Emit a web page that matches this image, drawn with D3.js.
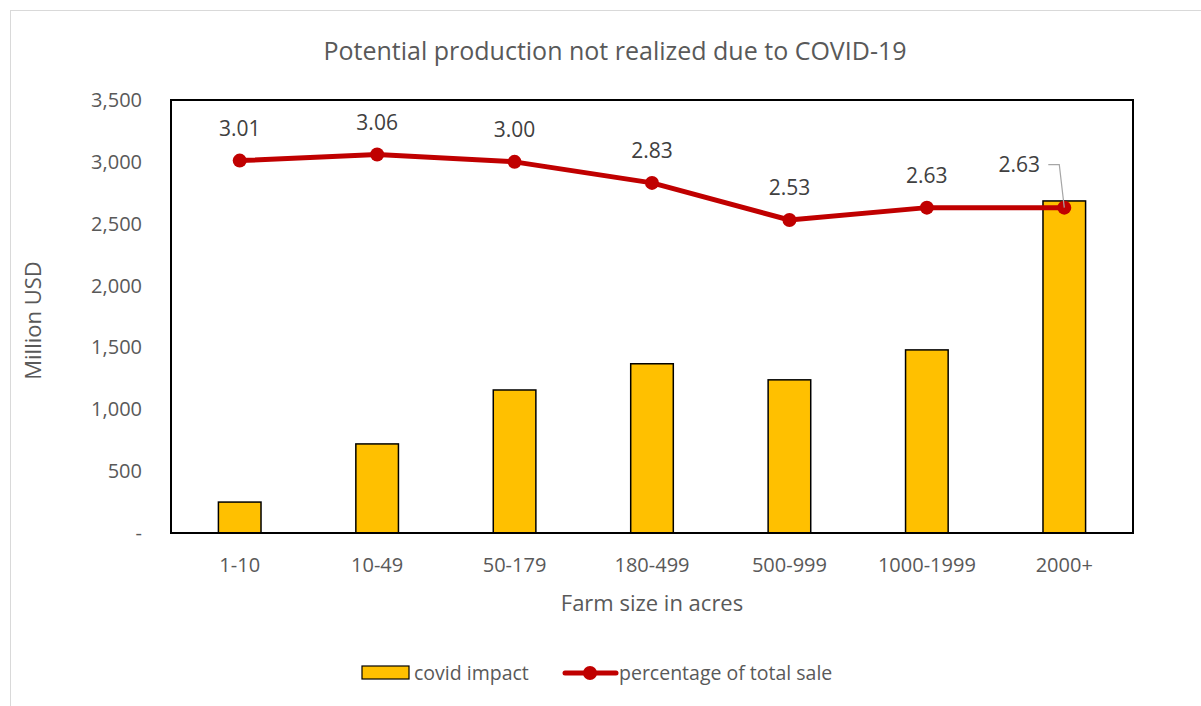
<!DOCTYPE html>
<html>
<head>
<meta charset="utf-8">
<script src="https://cdn.jsdelivr.net/npm/d3@7"></script>
<style>
  body { margin: 0; background: #fff; }
  text { font-family: "Open Sans", "Noto Sans", sans-serif; fill: #595959; }
</style>
</head>
<body>
<svg id="chart" width="1201" height="706"></svg>
<script>
// chart data
const farmSizes = ["1-10", "10-49", "50-179", "180-499", "500-999", "1000-1999", "2000+"];
const covidImpact = [250, 720, 1156, 1368, 1238, 1480, 2684];
const pctOfSale = [3.01, 3.06, 3.00, 2.83, 2.53, 2.63, 2.63];
const yTicks = [0, 500, 1000, 1500, 2000, 2500, 3000, 3500];

const svg = d3.select("#chart");
const margin = {top: 100, right: 68, bottom: 173, left: 171};
const width = 1201 - margin.left - margin.right;
const height = 706 - margin.top - margin.bottom;

// outer chart border
svg.append("rect")
    .attr("x", 10.5).attr("y", 10.5)
    .attr("width", 1200).attr("height", 700)
    .attr("fill", "none")
    .attr("stroke", "#d9d9d9");

const g = svg.append("g").attr("transform", `translate(${margin.left},${margin.top})`);

const x = d3.scaleBand().domain(farmSizes).range([0, width]).paddingInner(0.69).paddingOuter(0.345);
const y = d3.scaleLinear().domain([0, 3500]).range([height, 0]);
// percentage series drawn on a hidden 0-3.5 axis
const y2 = d3.scaleLinear().domain([0, 3.5]).range([height, 0]);

// y axis labels
const fmt = d3.format(",");
g.selectAll(".ytick")
    .data(yTicks)
    .enter()
    .append("text")
        .attr("x", -29)
        .attr("y", d => y(d))
        .attr("dy", "0.35em")
        .attr("text-anchor", "end")
        .style("font-size", "20px")
        .text(d => d === 0 ? "-" : fmt(d));

// x axis labels
g.selectAll(".xtick")
    .data(farmSizes)
    .enter()
    .append("text")
        .attr("x", d => x(d) + x.bandwidth() / 2)
        .attr("y", height + 39)
        .attr("text-anchor", "middle")
        .style("font-size", "20px")
        .text(d => d);

// bars
g.selectAll(".bar")
    .data(covidImpact)
    .enter()
    .append("rect")
        .attr("x", (d, i) => x(farmSizes[i]))
        .attr("y", d => y(d))
        .attr("width", x.bandwidth())
        .attr("height", d => height - y(d))
        .attr("fill", "#FFC000")
        .attr("stroke", "#000")
        .attr("stroke-width", 1.5);

// plot frame
g.append("rect")
    .attr("width", width).attr("height", height)
    .attr("fill", "none")
    .attr("stroke", "#000")
    .attr("stroke-width", 2);

// line series
const cx = i => x(farmSizes[i]) + x.bandwidth() / 2;
const line = d3.line()
    .x((d, i) => cx(i))
    .y(d => y2(d));

g.append("path")
    .datum(pctOfSale)
    .attr("d", line)
    .attr("fill", "none")
    .attr("stroke", "#C00000")
    .attr("stroke-width", 5)
    .attr("stroke-linejoin", "round");

g.selectAll(".dot")
    .data(pctOfSale)
    .enter()
    .append("circle")
        .attr("cx", (d, i) => cx(i))
        .attr("cy", d => y2(d))
        .attr("r", 7)
        .attr("fill", "#C00000");

// data labels
g.selectAll(".lbl")
    .data(pctOfSale)
    .enter()
    .append("text")
        .attr("x", (d, i) => i === 6 ? cx(i) - 45 : cx(i))
        .attr("y", (d, i) => i === 6 ? y2(d) - 43 : y2(d) - 32)
        .attr("dy", "0.35em")
        .attr("text-anchor", "middle")
        .style("font-size", "21px")
        .style("fill", "#404040")
        .text(d => d.toFixed(2));

// leader line for the last label
const last = pctOfSale.length - 1;
g.append("path")
    .attr("d", `M${cx(last) - 16},${y2(pctOfSale[last]) - 43} h11 L${cx(last)},${y2(pctOfSale[last])}`)
    .attr("fill", "none")
    .attr("stroke", "#a6a6a6")
    .attr("stroke-width", 1.2);

// title
svg.append("text")
    .attr("x", 615).attr("y", 60)
    .attr("text-anchor", "middle")
    .style("font-size", "25px")
    .text("Potential production not realized due to COVID-19");

// axis titles
svg.append("text")
    .attr("x", margin.left + width / 2).attr("y", 611)
    .attr("text-anchor", "middle")
    .style("font-size", "22px")
    .text("Farm size in acres");

svg.append("text")
    .attr("transform", `translate(41,${margin.top + height / 2 + 4}) rotate(-90)`)
    .attr("text-anchor", "middle")
    .style("font-size", "22px")
    .text("Million USD");

// legend
const leg = svg.append("g").attr("transform", "translate(0,673)");
leg.append("rect")
    .attr("x", 362).attr("y", -7)
    .attr("width", 47).attr("height", 13)
    .attr("fill", "#FFC000")
    .attr("stroke", "#000")
    .attr("stroke-width", 1.2);
leg.append("text")
    .attr("x", 414).attr("dy", "0.35em")
    .style("font-size", "19.5px")
    .text("covid impact");
leg.append("line")
    .attr("x1", 565).attr("x2", 616)
    .attr("stroke", "#C00000")
    .attr("stroke-width", 5)
    .attr("stroke-linecap", "round");
leg.append("circle")
    .attr("cx", 590).attr("r", 7)
    .attr("fill", "#C00000");
leg.append("text")
    .attr("x", 619).attr("dy", "0.35em")
    .style("font-size", "19.5px")
    .text("percentage of total sale");
</script>
</body>
</html>
